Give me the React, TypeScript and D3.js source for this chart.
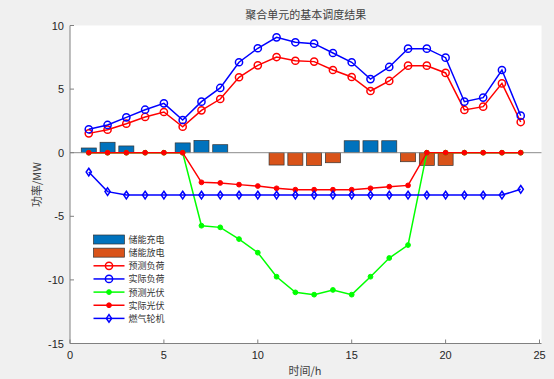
import React from "react";
import * as d3 from "d3";

const hours = d3.range(1, 25);
const storage = [0.37, 0.82, 0.53, 0, 0, 0.77, 0.97, 0.63, 0, 0, -0.97, -0.99, -1.0, -0.79, 0.94, 0.94, 0.94, -0.71, -1.0, -1.0, 0, 0, 0, 0];
const predLoad = [1.52, 1.81, 2.28, 2.81, 3.2, 2.04, 3.33, 4.22, 5.93, 6.87, 7.52, 7.23, 7.16, 6.5, 5.95, 4.85, 5.64, 6.84, 6.84, 6.27, 3.36, 3.62, 5.45, 2.41];
const actLoad = [1.84, 2.18, 2.78, 3.38, 3.88, 2.57, 4.01, 5.09, 7.11, 8.21, 9.07, 8.68, 8.57, 7.84, 7.11, 5.79, 6.74, 8.18, 8.18, 7.47, 4.01, 4.33, 6.5, 2.91];
const predPV = [0, 0, 0, 0, 0, 0, -5.74, -5.87, -6.79, -7.86, -9.75, -10.98, -11.16, -10.79, -11.16, -9.75, -8.28, -7.26, 0, 0, 0, 0, 0, 0];
const actPV = [0, 0, 0, 0, 0, 0, -2.33, -2.38, -2.51, -2.62, -2.8, -2.91, -2.91, -2.91, -2.91, -2.8, -2.67, -2.57, 0, 0, 0, 0, 0, 0];
const gas = [-1.52, -3.06, -3.33, -3.33, -3.33, -3.33, -3.33, -3.33, -3.33, -3.33, -3.33, -3.33, -3.33, -3.33, -3.33, -3.33, -3.33, -3.33, -3.33, -3.33, -3.33, -3.33, -3.33, -2.88];
const xTicks = [0, 5, 10, 15, 20, 25];
const yTicks = [-15, -10, -5, 0, 5, 10];
const legendLabels = ["储能充电", "储能放电", "预测负荷", "实际负荷", "预测光伏", "实际光伏", "燃气轮机"];

const W = 554, H = 379;
const x = d3.scaleLinear().domain([0, 25]).range([70, 539.5]);
const y = d3.scaleLinear().domain([-15, 10]).range([343.5, 25.5]);

const CHARGE = "#0072BD";
const DISCHARGE = "#D95319";
const TXT = "#262626";
const SANS = "'Liberation Sans', Arial, sans-serif";
const CJK = "'Noto Sans CJK SC', sans-serif";

type Marker = "circle" | "dot" | "diamond";

function MarkerShape({ cx, cy, type, color }: { cx: number; cy: number; type: Marker; color: string }) {
  if (type === "circle") return <circle cx={cx} cy={cy} r={3.6} fill="none" stroke={color} strokeWidth={1.5} />;
  if (type === "dot") return <circle cx={cx} cy={cy} r={2.4} fill={color} stroke={color} strokeWidth={1} />;
  const path = `M${cx},${cy - 3.8}L${cx + 2.6},${cy}L${cx},${cy + 3.8}L${cx - 2.6},${cy}Z`;
  return <path d={path} fill="none" stroke={color} strokeWidth={1.5} />;
}

function Series({ data, color, marker }: { data: number[]; color: string; marker: Marker }) {
  const line = d3.line<number>().x((_, i) => x(hours[i])).y((d) => y(d));
  return (
    <g>
      <path d={line(data) || ""} fill="none" stroke={color} strokeWidth={1.5} />
      {data.map((d, i) => (
        <MarkerShape key={i} cx={x(hours[i])} cy={y(d)} type={marker} color={color} />
      ))}
    </g>
  );
}

export default function App() {
  const bw = (x(0.8) - x(0));
  const lines: { data: number[]; color: string; marker: Marker }[] = [
    { data: predLoad, color: "#FF0000", marker: "circle" },
    { data: actLoad, color: "#0000FF", marker: "circle" },
    { data: predPV, color: "#00FF00", marker: "dot" },
    { data: actPV, color: "#FF0000", marker: "dot" },
    { data: gas, color: "#0000FF", marker: "diamond" },
  ];
  const legY0 = 239.5;
  const legDy = 13.15;
  return (
    <svg width={W} height={H} style={{ position: "fixed", left: 0, top: 0, background: "#F0F0F0" }}>
      <rect x={0} y={0} width={W} height={H} fill="#F0F0F0" />
      <rect x={x(0)} y={y(10)} width={541.5 - x(0)} height={y(-15) - y(10)} fill="#FFFFFF" />
      {/* title */}
      <text x={(x(0) + 541.5) / 2} y={19} textAnchor="middle" fontFamily={CJK} fontSize={11} fill="#404040">
        聚合单元的基本调度结果
      </text>
      {/* bars */}
      {storage.map((v, i) =>
        v === 0 ? null : (
          <rect
            key={i}
            x={x(hours[i]) - bw / 2}
            y={v > 0 ? y(v) : y(0)}
            width={bw}
            height={Math.abs(y(v) - y(0))}
            fill={v > 0 ? CHARGE : DISCHARGE}
            stroke="#333"
            strokeWidth={0.7}
          />
        )
      )}
      {/* baseline */}
      <line x1={x(0)} x2={541.5} y1={y(0)} y2={y(0)} stroke="#8c8c8c" strokeWidth={1} />
      {lines.map((l, i) => (
        <Series key={i} data={l.data} color={l.color} marker={l.marker} />
      ))}
      {/* axes */}
      <line x1={x(0)} x2={541.5} y1={y(-15)} y2={y(-15)} stroke="#808080" strokeWidth={1} />
      <line x1={x(0)} x2={x(0)} y1={y(-15)} y2={y(10)} stroke="#808080" strokeWidth={1} />
      {xTicks.map((t) => (
        <g key={"x" + t}>
          <line x1={x(t)} x2={x(t)} y1={y(-15)} y2={y(-15) - 4} stroke="#808080" strokeWidth={1} />
          <text x={x(t)} y={358.5} textAnchor="middle" fontFamily={SANS} fontSize={11} fill={TXT}>
            {t}
          </text>
        </g>
      ))}
      {yTicks.map((t) => (
        <g key={"y" + t}>
          <line x1={x(0)} x2={x(0) + 4} y1={y(t)} y2={y(t)} stroke="#808080" strokeWidth={1} />
          <text x={x(0) - 6} y={y(t) + 4} textAnchor="end" fontFamily={SANS} fontSize={11} fill={TXT}>
            {t}
          </text>
        </g>
      ))}
      <text x={305} y={375} textAnchor="middle" fontFamily={CJK} fontSize={11} fill="#404040">
        时间/h
      </text>
      <text
        transform={`translate(41, ${(y(10) + y(-15)) / 2}) rotate(-90)`}
        textAnchor="middle"
        fontFamily={CJK}
        fontSize={11}
        fill="#404040"
      >
        功率/MW
      </text>
      {/* legend */}
      {legendLabels.map((lab, i) => {
        const cy = legY0 + i * legDy;
        let sample: React.ReactNode = null;
        if (i < 2) {
          sample = (
            <rect x={93.5} y={cy - 4.5} width={31} height={9} fill={i === 0 ? CHARGE : DISCHARGE} stroke="#333" strokeWidth={0.7} />
          );
        } else {
          const l = lines[i - 2];
          sample = (
            <g>
              <line x1={93.5} x2={124.5} y1={cy} y2={cy} stroke={l.color} strokeWidth={1.5} />
              <MarkerShape cx={109} cy={cy} type={l.marker} color={l.color} />
            </g>
          );
        }
        return (
          <g key={lab}>
            {sample}
            <text x={128.5} y={cy + 3.5} fontFamily={CJK} fontSize={9} fill="#333">
              {lab}
            </text>
          </g>
        );
      })}
    </svg>
  );
}
